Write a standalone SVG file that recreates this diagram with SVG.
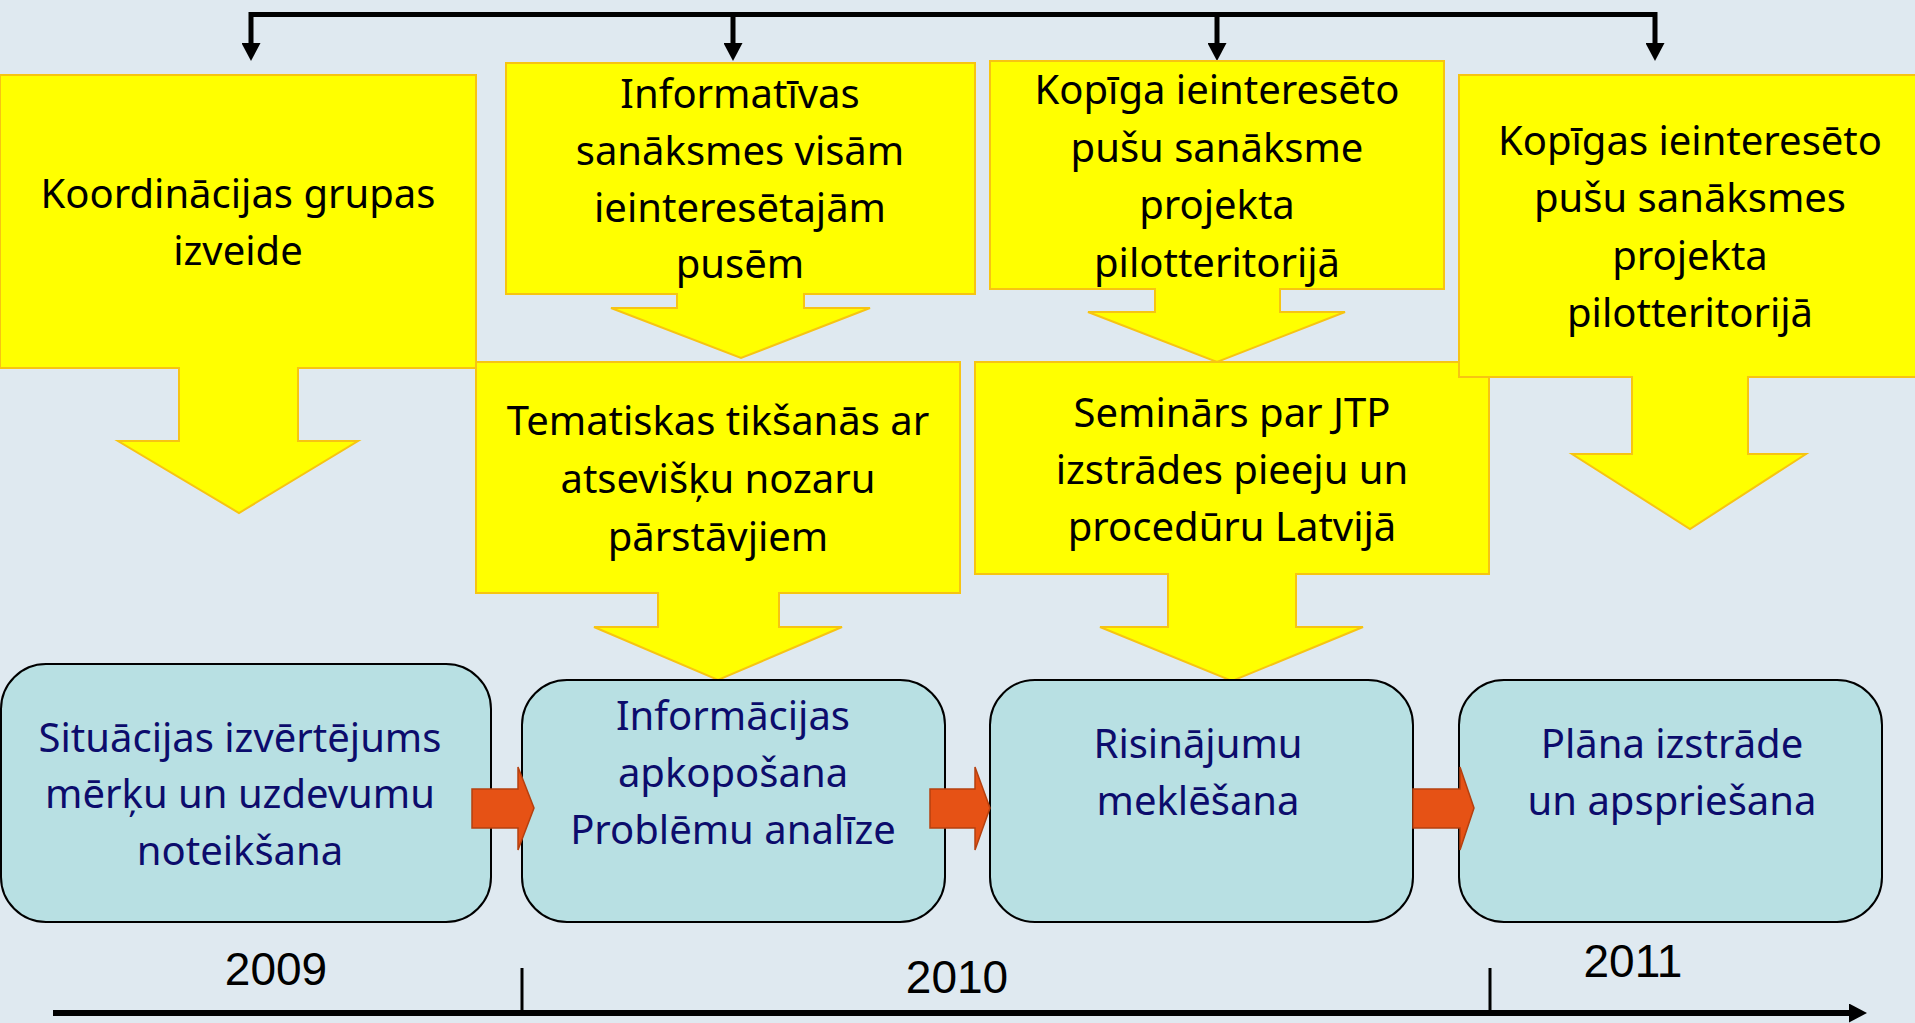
<svg xmlns="http://www.w3.org/2000/svg" width="1915" height="1023" viewBox="0 0 1915 1023">
<defs>
<style>
.bg{fill:#dfe9f0}
.call{fill:#ffff00;stroke:#f7c412;stroke-width:2;stroke-linejoin:miter}
.ty{font-family:"Noto Sans","Open Sans",sans-serif;font-size:40px;fill:#000000;text-anchor:middle}
.tb{font-family:"Noto Sans","Open Sans",sans-serif;font-size:40px;fill:#0c0c6c;text-anchor:middle}
.box{fill:#b8e0e3;stroke:#000000;stroke-width:2}
.oarr{fill:#e65215;stroke:#b5400f;stroke-width:1.5}
.yr{font-family:"Liberation Sans",Arial,sans-serif;font-size:46px;fill:#000000;text-anchor:middle}
.ln{fill:none;stroke:#000000;stroke-width:5}
</style>
<marker id="ah" markerUnits="userSpaceOnUse" markerWidth="18" markerHeight="19" refX="0" refY="9.5" orient="auto" viewBox="0 0 18 19">
<path d="M0,0 L18,9.5 L0,19 Z" fill="#000000"/>
</marker>
</defs>
<rect class="bg" x="0" y="0" width="1915" height="1023"/>

<g id="connectors">
<path class="ln" d="M251,14.5 H1655 V43" marker-end="url(#ah)"/>
<line class="ln" x1="251" y1="12" x2="251" y2="43" marker-end="url(#ah)"/>
<line class="ln" x1="733" y1="14.5" x2="733" y2="43" marker-end="url(#ah)"/>
<line class="ln" x1="1217" y1="14.5" x2="1217" y2="43" marker-end="url(#ah)"/>
</g>

<g id="coord">
<path class="call" d="M0,75 H476 V368 H298 V441 H358 L239,513 L118,441 H179 V368 H0 Z"/>
<text class="ty" x="238" y="208">Koordinācijas grupas</text>
<text class="ty" x="238" y="265">izveide</text>
</g>

<g id="informativas">
<path class="call" d="M506,63 H975 V294 H804 V308 H870 L741,358 L611,308 H677 V294 H506 Z"/>
<text class="ty" x="740" y="108">Informatīvas</text>
<text class="ty" x="740" y="165">sanāksmes visām</text>
<text class="ty" x="740" y="222">ieinteresētajām</text>
<text class="ty" x="740" y="278">pusēm</text>
</g>

<g id="kopiga">
<path class="call" d="M990,61 H1444 V289 H1280 V312 H1345 L1217,362 L1088,312 H1155 V289 H990 Z"/>
<text class="ty" x="1217" y="104">Kopīga ieinteresēto</text>
<text class="ty" x="1217" y="161.5">pušu sanāksme</text>
<text class="ty" x="1217" y="219">projekta</text>
<text class="ty" x="1217" y="276.5">pilotteritorijā</text>
</g>

<g id="tematiskas">
<path class="call" d="M476,362 H960 V593 H779 V627 H842 L718,680 L594,627 H658 V593 H476 Z"/>
<text class="ty" x="718" y="435">Tematiskas tikšanās ar</text>
<text class="ty" x="718" y="493">atsevišķu nozaru</text>
<text class="ty" x="718" y="551">pārstāvjiem</text>
</g>

<g id="seminars">
<path class="call" d="M975,362 H1489 V574 H1296 V627 H1363 L1232,681 L1100,627 H1168 V574 H975 Z"/>
<text class="ty" x="1232" y="427">Seminārs par JTP</text>
<text class="ty" x="1232" y="484">izstrādes pieeju un</text>
<text class="ty" x="1232" y="541">procedūru Latvijā</text>
</g>

<g id="kopigas">
<path class="call" d="M1459,75 H1921 V377 H1748 V454 H1806 L1690,529 L1572,454 H1632 V377 H1459 Z"/>
<text class="ty" x="1690" y="155">Kopīgas ieinteresēto</text>
<text class="ty" x="1690" y="212">pušu sanāksmes</text>
<text class="ty" x="1690" y="270">projekta</text>
<text class="ty" x="1690" y="327">pilotteritorijā</text>
</g>

<g id="situacijas">
<rect class="box" x="1" y="664" width="490" height="258" rx="45" ry="45"/>
<text class="tb" x="240" y="752">Situācijas izvērtējums</text>
<text class="tb" x="240" y="808">mērķu un uzdevumu</text>
<text class="tb" x="240" y="865">noteikšana</text>
</g>

<g id="informacijas">
<rect class="box" x="522" y="680" width="423" height="242" rx="45" ry="45"/>
<text class="tb" x="733" y="730">Informācijas</text>
<text class="tb" x="733" y="787">apkopošana</text>
<text class="tb" x="733" y="844">Problēmu analīze</text>
</g>

<g id="risinajumu">
<rect class="box" x="990" y="680" width="423" height="242" rx="45" ry="45"/>
<text class="tb" x="1198" y="758">Risinājumu</text>
<text class="tb" x="1198" y="815">meklēšana</text>
</g>

<g id="plana">
<rect class="box" x="1459" y="680" width="423" height="242" rx="45" ry="45"/>
<text class="tb" x="1672" y="758">Plāna izstrāde</text>
<text class="tb" x="1672" y="815">un apspriešana</text>
</g>

<g id="flow-arrows">
<path class="oarr" d="M472,789 H518 V767 L534,808 L518,850 V828 H472 Z"/>
<path class="oarr" d="M930,789 H975 V767 L990,808 L975,850 V828 H930 Z"/>
<path class="oarr" d="M1413,789 H1460 V767 L1474,808 L1460,850 V828 H1413 Z"/>
</g>

<g id="timeline">
<line x1="53" y1="1013" x2="1849" y2="1013" stroke="#000000" stroke-width="6" marker-end="url(#ah)"/>
<line x1="522" y1="968" x2="522" y2="1010" stroke="#000000" stroke-width="3"/>
<line x1="1490" y1="968" x2="1490" y2="1010" stroke="#000000" stroke-width="3"/>
<text class="yr" x="276" y="985">2009</text>
<text class="yr" x="957" y="993">2010</text>
<text class="yr" x="1633" y="977">2011</text>
</g>
</svg>
